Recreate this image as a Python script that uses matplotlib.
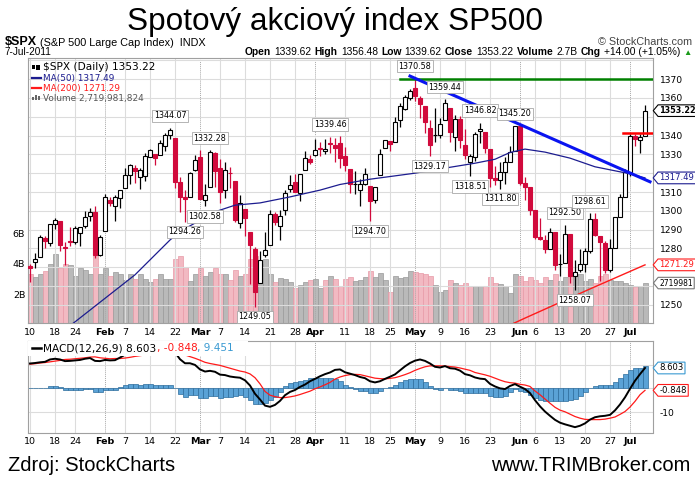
import matplotlib
matplotlib.use('Agg')
import matplotlib.pyplot as plt
import matplotlib.transforms as mtransforms
from matplotlib.path import Path
from matplotlib.patches import Rectangle

# ---- data ($SPX daily, Jan 10 - Jul 7 2011)
dates = ['Jan 10', 'Jan 11', 'Jan 12', 'Jan 13', 'Jan 14', 'Jan 18', 'Jan 19', 'Jan 20', 'Jan 21',
         'Jan 24', 'Jan 25', 'Jan 26', 'Jan 27', 'Jan 28', 'Jan 31',
         'Feb 1', 'Feb 2', 'Feb 3', 'Feb 4', 'Feb 7', 'Feb 8', 'Feb 9', 'Feb 10', 'Feb 11',
         'Feb 14', 'Feb 15', 'Feb 16', 'Feb 17', 'Feb 18', 'Feb 22', 'Feb 23', 'Feb 24', 'Feb 25', 'Feb 28',
         'Mar 1', 'Mar 2', 'Mar 3', 'Mar 4', 'Mar 7', 'Mar 8', 'Mar 9', 'Mar 10', 'Mar 11',
         'Mar 14', 'Mar 15', 'Mar 16', 'Mar 17', 'Mar 18', 'Mar 21', 'Mar 22', 'Mar 23', 'Mar 24', 'Mar 25',
         'Mar 28', 'Mar 29', 'Mar 30', 'Mar 31',
         'Apr 1', 'Apr 4', 'Apr 5', 'Apr 6', 'Apr 7', 'Apr 8', 'Apr 11', 'Apr 12', 'Apr 13', 'Apr 14', 'Apr 15',
         'Apr 18', 'Apr 19', 'Apr 20', 'Apr 21', 'Apr 25', 'Apr 26', 'Apr 27', 'Apr 28', 'Apr 29',
         'May 2', 'May 3', 'May 4', 'May 5', 'May 6', 'May 9', 'May 10', 'May 11', 'May 12', 'May 13',
         'May 16', 'May 17', 'May 18', 'May 19', 'May 20', 'May 23', 'May 24', 'May 25', 'May 26', 'May 27', 'May 31',
         'Jun 1', 'Jun 2', 'Jun 3', 'Jun 6', 'Jun 7', 'Jun 8', 'Jun 9', 'Jun 10', 'Jun 13', 'Jun 14', 'Jun 15',
         'Jun 16', 'Jun 17', 'Jun 20', 'Jun 21', 'Jun 22', 'Jun 23', 'Jun 24', 'Jun 27', 'Jun 28', 'Jun 29', 'Jun 30',
         'Jul 1', 'Jul 5', 'Jul 6', 'Jul 7']

opens = [1270.8, 1272.6, 1275.7, 1285.8, 1282.9, 1293.2, 1294.5, 1280.9, 1283.6,
         1283.3, 1288.2, 1292.0, 1297.5, 1299.6, 1276.5,
         1289.1, 1305.9, 1302.8, 1307.0, 1311.9, 1318.8, 1322.5, 1318.1, 1318.7,
         1328.7, 1330.4, 1329.5, 1334.4, 1340.4, 1338.9, 1315.4, 1307.1, 1307.3, 1321.6,
         1328.6, 1305.9, 1312.4, 1330.7, 1322.7, 1311.1, 1320.2, 1315.7, 1293.4,
         1301.2, 1288.5, 1279.5, 1261.6, 1276.7, 1281.7, 1298.3, 1292.2, 1300.6, 1311.8,
         1315.5, 1309.4, 1321.9, 1327.4,
         1329.5, 1333.0, 1332.0, 1335.9, 1334.8, 1336.2, 1329.0, 1322.0, 1314.0, 1311.1, 1314.5,
         1313.4, 1306.0, 1319.1, 1333.2, 1337.1, 1336.8, 1348.4, 1353.9, 1360.1,
         1365.2, 1359.8, 1355.9, 1344.2, 1340.2, 1340.2, 1348.3, 1354.5, 1339.4, 1348.7,
         1334.8, 1326.1, 1328.5, 1342.4, 1342.0, 1333.1, 1317.7, 1316.4, 1320.6, 1325.7, 1331.7,
         1345.2, 1314.6, 1312.9, 1300.3, 1286.3, 1284.6, 1279.6, 1288.5, 1271.6, 1272.2, 1287.9,
         1265.5, 1268.6, 1271.5, 1278.4, 1295.5, 1286.6, 1283.0, 1268.4, 1280.2, 1296.8, 1307.6,
         1320.6, 1339.6, 1337.6, 1339.62]

highs = [1271.5, 1277.6, 1286.9, 1286.7, 1293.2, 1296.1, 1294.6, 1283.4, 1291.2,
         1291.9, 1291.3, 1299.7, 1301.3, 1302.7, 1287.2,
         1308.9, 1307.6, 1308.6, 1311.0, 1322.9, 1324.9, 1324.5, 1322.8, 1330.8,
         1332.9, 1330.4, 1337.6, 1341.5, 1344.07, 1338.9, 1317.9, 1310.9, 1320.6, 1329.4,
         1332.1, 1314.2, 1332.28, 1331.1, 1327.7, 1325.7, 1323.2, 1315.7, 1308.4,
         1301.2, 1288.5, 1280.9, 1278.9, 1288.9, 1300.6, 1299.4, 1300.5, 1311.3, 1319.2,
         1319.7, 1319.5, 1331.7, 1329.8,
         1337.9, 1336.7, 1338.2, 1339.46, 1338.8, 1339.5, 1333.8, 1322.0, 1321.4, 1316.8, 1322.9,
         1313.4, 1312.7, 1332.7, 1337.5, 1337.1, 1349.6, 1357.5, 1361.7, 1364.6,
         1370.58, 1360.8, 1355.9, 1348.0, 1354.4, 1349.4, 1359.44, 1354.5, 1351.0, 1350.5,
         1343.3, 1330.4, 1341.8, 1346.82, 1342.0, 1333.1, 1323.7, 1325.9, 1328.5, 1334.6, 1345.2,
         1345.2, 1318.0, 1312.9, 1300.3, 1296.2, 1287.0, 1291.0, 1288.5, 1277.0, 1292.5, 1287.9,
         1274.1, 1279.8, 1280.4, 1298.61, 1298.6, 1286.6, 1283.9, 1284.9, 1296.8, 1309.2, 1322.0,
         1341.0, 1340.9, 1340.9, 1356.48]

lows = [1262.2, 1269.6, 1275.7, 1280.5, 1281.1, 1290.2, 1278.9, 1271.3, 1281.1,
        1282.5, 1281.1, 1291.0, 1294.4, 1275.1, 1276.0,
        1289.1, 1302.6, 1294.8, 1301.7, 1311.9, 1314.3, 1314.9, 1311.7, 1316.1,
        1328.7, 1324.6, 1329.5, 1331.9, 1338.1, 1312.3, 1299.6, 1294.26, 1307.3, 1320.9,
        1306.3, 1302.58, 1312.4, 1312.6, 1304.0, 1306.9, 1312.3, 1294.2, 1291.0,
        1286.4, 1261.1, 1249.05, 1261.6, 1275.5, 1281.7, 1292.7, 1284.4, 1297.7, 1310.2,
        1310.2, 1305.3, 1321.9, 1325.0,
        1328.9, 1329.1, 1330.0, 1330.7, 1326.1, 1322.9, 1321.1, 1309.5, 1309.2, 1302.4, 1313.7,
        1294.7, 1304.0, 1319.1, 1333.2, 1331.7, 1336.8, 1344.3, 1353.6, 1358.7,
        1358.6, 1349.5, 1341.5, 1329.17, 1336.4, 1338.6, 1348.3, 1336.4, 1332.0, 1333.4,
        1327.3, 1318.51, 1326.6, 1336.1, 1330.7, 1312.9, 1313.9, 1311.8, 1314.3, 1325.7, 1331.7,
        1313.7, 1305.6, 1297.9, 1284.9, 1284.7, 1277.4, 1279.6, 1268.3, 1265.6, 1272.2, 1261.9,
        1258.07, 1267.4, 1267.6, 1277.6, 1286.8, 1262.9, 1267.2, 1267.5, 1280.2, 1296.8, 1307.6,
        1318.3, 1334.3, 1330.9, 1339.62]

closes = [1269.8, 1274.5, 1286.0, 1283.8, 1293.2, 1295.0, 1281.9, 1280.3, 1283.4,
          1290.8, 1291.2, 1296.6, 1299.5, 1276.3, 1286.1,
          1307.6, 1304.0, 1307.1, 1310.9, 1319.1, 1324.6, 1320.9, 1321.9, 1329.2,
          1332.3, 1328.0, 1336.3, 1340.4, 1343.0, 1315.4, 1307.4, 1306.1, 1319.9, 1327.2,
          1306.3, 1308.4, 1331.0, 1321.2, 1310.1, 1321.8, 1320.0, 1295.1, 1304.3,
          1296.4, 1281.9, 1256.9, 1273.7, 1279.2, 1298.4, 1293.8, 1297.5, 1309.7, 1313.8,
          1310.2, 1319.4, 1328.3, 1325.8,
          1332.4, 1332.9, 1332.6, 1335.5, 1333.5, 1328.2, 1324.5, 1314.2, 1314.4, 1314.5, 1319.7,
          1305.1, 1312.6, 1330.4, 1337.4, 1335.3, 1347.2, 1355.7, 1360.5, 1363.6,
          1361.2, 1356.6, 1347.3, 1335.1, 1340.3, 1346.3, 1357.2, 1342.1, 1348.65, 1337.8,
          1329.5, 1329.0, 1340.7, 1343.6, 1333.3, 1317.4, 1316.3, 1320.5, 1325.7, 1331.1, 1345.2,
          1314.55, 1312.9, 1300.2, 1286.2, 1284.9, 1279.6, 1289.0, 1271.0, 1271.8, 1287.9, 1265.4,
          1267.6, 1271.5, 1278.4, 1295.5, 1287.1, 1283.5, 1268.45, 1280.1, 1296.7, 1307.4, 1320.6,
          1339.7, 1337.9, 1339.2, 1353.22]

volumes = [3.3, 3.1, 3.3, 3.5, 4.0, 4.6, 3.7, 4.0, 3.9, 3.2, 3.7, 3.6, 3.3, 4.6, 3.3,
           3.7, 3.2, 3.45, 3.3, 2.95, 3.3, 3.0, 3.3, 3.0, 2.8, 3.0, 3.3, 3.0, 3.0, 4.3, 4.5, 3.8, 2.85, 3.3,
           3.7, 3.2, 3.45, 3.7, 3.3, 3.3, 2.9, 3.6, 3.2, 3.3, 4.3, 4.5, 3.95, 4.3, 3.3, 2.8, 3.05, 3.0, 2.8,
           2.4, 2.6, 2.8, 2.9,
           3.0, 2.4, 2.9, 3.2, 3.0, 2.55, 3.0, 3.1, 2.85, 2.9, 3.1, 3.5, 3.1, 3.35, 2.9, 2.15, 3.2, 3.05, 3.1, 3.5,
           3.45, 3.35, 3.3, 3.2, 2.6, 2.15, 2.25, 2.9, 2.7, 2.6, 2.7, 2.5, 2.5, 2.5, 2.5, 3.1, 2.7, 2.65, 2.5, 2.1, 3.3,
           3.2, 2.85, 3.1, 2.9, 2.7, 3.1, 2.9, 3.3, 2.85, 3.1, 3.3, 3.3, 3.3, 2.85, 3.0, 2.7, 3.2, 3.3, 2.9, 2.85,
           2.85, 2.7, 2.6, 2.45, 2.5, 2.72]

ma50_dates = ['Jan 20', 'Jan 24', 'Feb 9', 'Feb 18', 'Feb 23', 'Mar 4', 'Mar 10', 'Mar 17', 'Mar 25',
              'Apr 4', 'Apr 8', 'Apr 18', 'May 2', 'May 10', 'May 18', 'May 24', 'May 27', 'Jun 2',
              'Jun 8', 'Jun 15', 'Jun 22', 'Jun 30', 'Jul 5', 'Jul 7']
ma50_vals = [1237.0, 1241.0, 1266.0, 1284.5, 1289.0, 1299.5, 1303.0, 1304.2, 1307.4,
             1311.0, 1314.0, 1316.8, 1320.0, 1322.7, 1325.3, 1327.4, 1331.0, 1332.8,
             1331.2, 1328.0, 1323.4, 1320.2, 1318.9, 1317.49]

ma200_dates = ['May 19', 'Jun 2', 'Jun 21', 'Jul 7']
ma200_vals = [1232.0, 1243.0, 1258.5, 1271.29]

macd = [10.5, 10.7, 11.0, 11.2, 12.2, 12.5, 12.2, 11.5, 11.6, 11.8, 12.0, 12.5, 12.8, 11.6, 11.5,
        12.0, 11.8, 11.9, 13.0, 14.2, 14.9, 15.3, 15.2, 15.9, 16.3, 16.2, 16.3, 16.5, 16.6, 15.2,
        12.3, 10.6, 10.6, 9.9, 8.0, 7.1, 7.4, 7.0, 5.8, 5.6, 5.0, 4.7, 4.5, 3.4, 1.2,
        -2.3, -4.7, -7.3, -7.8, -7.0, -5.3, -2.9, -1.5, -0.7, 0.6, 1.6, 3.0, 4.0, 5.1, 6.0,
        6.7, 7.8, 8.0, 6.8, 6.2, 5.6, 4.8, 4.3, 3.0, 2.5, 3.0, 4.0, 4.9, 5.9, 7.6,
        9.3, 10.7, 11.7, 12.2, 11.6, 10.5, 9.1, 8.8, 9.4, 8.5, 8.3, 7.5, 6.0, 5.5, 4.6,
        4.1, 3.9, 1.9, 0.8, 0.0, -0.3, 1.0, 1.8, 0.7, -0.3, -2.0, -5.0, -7.6, -9.8, -11.6,
        -13.3, -14.5, -15.2, -15.8, -16.4, -15.8, -14.8, -13.2, -12.2, -11.8, -11.6, -11.2, -9.3, -6.8, -3.8,
        -0.2, 3.2, 6.0, 8.603]

signal = [10.2, 10.4, 10.7, 10.9, 11.2, 11.5, 11.8, 12.2, 12.3, 12.5, 12.7, 12.9, 13.2, 13.3, 12.9,
          12.7, 12.5, 12.6, 12.6, 12.8, 13.1, 13.5, 13.8, 14.1, 14.5, 14.7, 15.0, 15.2, 15.3, 15.2,
          14.8, 14.1, 13.4, 12.7, 11.9, 11.0, 10.5, 10.1, 9.7, 9.1, 8.5, 7.9, 7.3, 6.9, 6.1,
          4.5, 1.9, -1.3, -2.9, -3.5, -3.9, -3.9, -3.6, -3.2, -2.6, -1.9, -1.2, -0.2, 0.6, 1.5,
          2.5, 3.9, 4.8, 5.4, 5.8, 5.9, 5.8, 5.3, 4.8, 4.3, 4.1, 4.0, 4.2, 4.5, 5.1,
          5.8, 6.6, 7.6, 8.4, 9.1, 9.5, 9.5, 9.5, 9.4, 9.2, 9.0, 8.6, 8.1, 7.6, 6.7,
          6.2, 5.7, 5.1, 4.3, 3.5, 2.8, 2.4, 2.2, 1.7, 1.4, 0.8, -1.1, -2.7, -4.5, -6.3,
          -8.0, -9.2, -9.9, -10.9, -11.9, -12.6, -13.1, -13.2, -13.2, -13.2, -13.0, -12.6, -12.1, -11.0, -9.8,
          -7.9, -5.5, -2.7, -0.848]

hist = [0.3, 0.3, 0.3, 0.3, 1.0, 1.0, 0.4, -0.7, -0.7, -0.7, -0.7, -0.4, -0.4, -1.7, -1.4,
        -0.7, -0.7, -0.7, 0.4, 1.4, 1.8, 1.8, 1.4, 1.8, 1.8, 1.5, 1.3, 1.3, 1.3, 0.0,
        -2.5, -3.5, -2.8, -2.8, -3.9, -3.9, -3.1, -3.1, -3.9, -3.5, -3.5, -3.2, -2.8, -3.5, -4.9,
        -6.8, -6.6, -6.0, -4.9, -3.5, -1.4, 1.0, 2.1, 2.5, 3.2, 3.5, 4.2, 4.2, 4.5, 4.5,
        4.2, 3.9, 3.2, 1.4, 0.4, -0.3, -1.0, -1.0, -1.8, -1.8, -1.1, 0.0, 0.7, 1.4, 2.5,
        3.5, 4.1, 4.1, 3.8, 2.5, 1.0, -0.4, -0.7, 0.0, -0.7, -0.7, -1.1, -2.1, -2.1, -2.1,
        -2.1, -1.8, -3.2, -3.5, -3.5, -3.1, -1.4, -0.4, -1.0, -1.7, -2.8, -3.9, -4.9, -5.3, -5.3,
        -5.3, -5.3, -5.3, -4.9, -4.5, -3.2, -1.7, 0.0, 1.0, 1.4, 1.4, 1.4, 2.8, 4.2, 6.0,
        7.7, 8.7, 8.7, 9.451]

tick_dates = ['Jan 10', 'Jan 18', 'Jan 24', 'Feb 1', 'Feb 7', 'Feb 14', 'Feb 22', 'Mar 1', 'Mar 7',
              'Mar 14', 'Mar 21', 'Mar 28', 'Apr 1', 'Apr 11', 'Apr 18', 'Apr 25', 'May 2', 'May 9',
              'May 16', 'May 23', 'Jun 1', 'Jun 6', 'Jun 13', 'Jun 20', 'Jun 27', 'Jul 1']
tick_labels = ['10', '18', '24', 'Feb', '7', '14', '22', 'Mar', '7', '14', '21', '28', 'Apr', '11',
               '18', '25', 'May', '9', '16', '23', 'Jun', '6', '13', '20', '27', 'Jul']

peak_dates = ['Feb 18', 'Feb 24', 'Mar 2', 'Mar 3', 'Mar 16', 'Apr 6', 'Apr 18', 'May 2', 'May 5',
              'May 10', 'May 17', 'May 19', 'May 25', 'May 31', 'Jun 14', 'Jun 16', 'Jun 21']
peak_vals = [1344.07, 1294.26, 1302.58, 1332.28, 1249.05, 1339.46, 1294.70, 1370.58, 1329.17,
             1359.44, 1318.51, 1346.82, 1311.80, 1345.20, 1292.50, 1258.07, 1298.61]
peak_side = ['hi', 'lo', 'lo', 'hi', 'lo', 'hi', 'lo', 'hi', 'lo', 'hi', 'lo', 'hi', 'lo', 'hi', 'hi', 'lo', 'hi']

plt.rcParams['font.family'] = ['DejaVu Sans']

RED = '#d10a3c'
GRID = '#dcdcdc'
SPINE = '#a0a0a0'
W, H = 695.0, 480.0

pos = {d: i for i, d in enumerate(dates)}
x = list(range(len(dates)))
XMIN, XMAX = -0.4, 124.6
ticks = [pos[d] for d in tick_dates]


def frame(left, top, right, bottom):
    return [left / W, 1 - bottom / H, (right - left) / W, (bottom - top) / H]


def tag_shape(x0, y0, width, height, mutation_size):
    pad = 0.16 * mutation_size
    x0, y0 = x0 - pad, y0 - pad
    x1, y1 = x0 + width + 2 * pad, y0 + height + 2 * pad
    tip = (y1 - y0) / 2.4
    return Path([(x0, y0), (x1, y0), (x1, y1), (x0, y1), (x0 - tip, (y0 + y1) / 2), (x0, y0)], closed=True)


def tag(axis, value, text, edge, color='black', bold=False, trans=None, size=6.1):
    trans = trans or mtransforms.blended_transform_factory(axis.transAxes, axis.transData)
    axis.annotate(text, xy=(1.0, value), xycoords=trans, xytext=(4.6, 0), textcoords='offset points',
                  ha='left', va='center', fontsize=5.9 if bold else size, color=color,
                  fontweight='bold' if bold else 'normal', annotation_clip=False, zorder=10,
                  bbox=dict(boxstyle=tag_shape, fc='white', ec=edge, lw=0.8))


def style_time_axis(axis):
    axis.set_xlim(XMIN, XMAX)
    axis.set_xticks(ticks)
    axis.set_xticklabels(tick_labels, fontsize=6.8)
    for lab in axis.get_xticklabels():
        if lab.get_text().isalpha():
            lab.set_fontweight('bold')
    axis.tick_params(axis='x', length=0, pad=3.5)
    for t, lab in zip(ticks, tick_labels):
        if lab.isalpha():
            axis.axvline(t, color='#a8a8a8', lw=0.7, ls=(0, (1, 1)), zorder=0)
        else:
            axis.axvline(t, color=GRID, lw=0.8, zorder=0)
    for s in axis.spines.values():
        s.set_color(SPINE)
        s.set_linewidth(0.8)


fig = plt.figure(figsize=(6.95, 4.8), dpi=100)

# ---- volume (behind) and price panel
ax_vol = fig.add_axes(frame(28, 58, 653, 323))
ax = fig.add_axes(frame(28, 58, 653, 323))
ax.patch.set_alpha(0)

prev = [opens[0]] + closes[:-1]
vol_down = [c < p for c, p in zip(closes, prev)]
ax_vol.bar(x, volumes, width=1.0,
           color=['#f2b9c2' if d else '#b9b9b9' for d in vol_down],
           edgecolor=['#e79aa7' if d else '#9a9a9a' for d in vol_down], linewidth=0.5)
ax_vol.set_xlim(XMIN, XMAX)
ax_vol.set_ylim(0.1, 17.48)
ax_vol.set_xticks([])
ax_vol.set_yticks([2, 4, 6])
ax_vol.set_yticklabels(['2B', '4B', '6B'], fontsize=6.8)
ax_vol.tick_params(axis='y', length=0, pad=2)
for s in ax_vol.spines.values():
    s.set_visible(False)

style_time_axis(ax)
ax.set_ylim(1240.4, 1381.2)
ax.yaxis.tick_right()
price_ticks = [1250, 1280, 1290, 1300, 1310, 1330, 1340, 1360, 1370]
ax.set_yticks(price_ticks)
ax.tick_params(axis='y', length=0, pad=5, labelsize=6.6)
for lvl in range(1250, 1381, 10):
    ax.axhline(lvl, color=GRID, lw=0.8, zorder=0)

down = [c < o for o, c in zip(opens, closes)]
ax.vlines(x, lows, highs, colors=[RED if d else 'black' for d in down], lw=0.9, zorder=3)
ax.bar(x, [max(abs(c - o), 0.35) for o, c in zip(opens, closes)],
       bottom=[min(o, c) for o, c in zip(opens, closes)], width=0.62,
       color=[RED if d else 'white' for d in down],
       edgecolor=[RED if d else 'black' for d in down], linewidth=0.8, zorder=4)

ax.plot([pos[d] for d in ma50_dates], ma50_vals, color='#1c1c8f', lw=0.9, zorder=5)
ax.plot([pos[d] for d in ma200_dates], ma200_vals, color='#ff1a1a', lw=1.0, zorder=5)

# drawn trend lines
ax.plot([pos['Apr 27'], XMAX], [1370, 1370], color='#008000', lw=1.8, zorder=6)
x0, x1 = pos['Apr 29'], pos['Jul 7']
y0, y1 = 1371.6, 1316.6
ax.plot([x0, x1 + 1], [y0, y1 + (y1 - y0) / (x1 - x0)], color='#0a14f0', lw=2.2, zorder=6)
ax.plot([pos['Jun 30'] - 0.4, XMAX], [1341.5, 1341.5], color='#ff0000', lw=1.8, zorder=6)

for d, v, side in zip(peak_dates, peak_vals, peak_side):
    off = 8.6 if side == 'hi' else -7.4
    ax.annotate(f'{v:.2f}', xy=(pos[d], v), xytext=(0, off), textcoords='offset points',
                ha='center', va='center', fontsize=5.8, zorder=8,
                bbox=dict(boxstyle='square,pad=0.22', fc='white', ec='#a8a8a8', lw=0.6))

# legend of the price panel
ax.add_patch(Rectangle((0.0065, 0.958), 0.005, 0.017, transform=ax.transAxes, fc='black', zorder=9))
ax.add_patch(Rectangle((0.0135, 0.955), 0.005, 0.020, transform=ax.transAxes, fc='black', zorder=9))
ax.text(0.0245, 0.966, '$SPX (Daily) 1353.22', transform=ax.transAxes, fontsize=7.6, va='center', zorder=9)
ax.plot([0.006, 0.021], [0.923, 0.923], transform=ax.transAxes, color='#1c1c8f', lw=1.6, zorder=9)
ax.text(0.0245, 0.923, 'MA(50) 1317.49', transform=ax.transAxes, fontsize=6.4, va='center',
        color='#1c1c8f', zorder=9)
ax.plot([0.006, 0.021], [0.886, 0.886], transform=ax.transAxes, color='#ff1a1a', lw=1.6, zorder=9)
ax.text(0.0245, 0.886, 'MA(200) 1271.29', transform=ax.transAxes, fontsize=6.4, va='center',
        color='#ff1a1a', zorder=9)
for k, hgt in enumerate([0.012, 0.020, 0.016]):
    ax.add_patch(Rectangle((0.0065 + k * 0.0048, 0.840), 0.0036, hgt, transform=ax.transAxes,
                           fc='#666666', zorder=9))
ax.text(0.0245, 0.848, 'Volume 2,719,981,824', transform=ax.transAxes, fontsize=6.4, va='center',
        color='#555555', zorder=9)

tag(ax, 1353.22, '1353.22', 'black', bold=True)
tag(ax, 1317.49, '1317.49', '#1c1c8f', color='#1c1c8f')
tag(ax, 1271.29, '1271.29', '#ff1a1a', color='#ff1a1a')
tag(ax, 2.72, '2719981', '#777777', size=5.5,
    trans=mtransforms.blended_transform_factory(ax.transAxes, ax_vol.transData))

# ---- MACD panel
axm = fig.add_axes(frame(28, 341, 653, 432.5))
style_time_axis(axm)
axm.set_ylim(-18.65, 20.0)
axm.yaxis.tick_right()
axm.set_yticks([-10, 0, 10])
axm.set_yticklabels(['-10', '', ''])
axm.tick_params(axis='y', length=0, pad=5, labelsize=6.6)
for lvl in (-10, 0, 10):
    axm.axhline(lvl, color=GRID, lw=0.8, zorder=0)
axm.bar(x, hist, width=1.0, color='#5aa2d6', edgecolor='#2c6c9c', linewidth=0.5, zorder=2)
axm.plot(x, signal, color='#ff1a1a', lw=0.9, zorder=3)
axm.plot(x, macd, color='black', lw=1.4, zorder=4)
axm.add_patch(Rectangle((0, 0.836), 0.352, 0.17, transform=axm.transAxes, fc='white', ec='none', zorder=6))
axm.plot([0.006, 0.021], [0.923, 0.923], transform=axm.transAxes, color='black', lw=1.8, zorder=7)
t1 = axm.text(0.0245, 0.923, 'MACD(12,26,9) 8.603', transform=axm.transAxes, fontsize=7.6,
              va='center', zorder=7)
t2 = axm.annotate(', -0.848', xy=(1, 0), xycoords=t1, va='bottom', fontsize=7.6, color='#ff1a1a', zorder=7)
axm.annotate(', 9.451', xy=(1, 0), xycoords=t2, va='bottom', fontsize=7.6, color='#3a9ad2', zorder=7)
tag(axm, 8.603, '8.603', '#3a9ad2')
tag(axm, -0.848, '-0.848', '#ff1a1a')

# ---- header and footer
fig.text(335 / W, 1 - 30 / H, 'Spotový akciový index SP500', ha='center', va='baseline',
         fontsize=22.7, family=['Liberation Sans', 'DejaVu Sans'])
hdr = ['Liberation Sans', 'DejaVu Sans']
s1 = fig.text(5 / W, 1 - 45 / H, '$SPX', fontsize=9.0, fontweight='bold', family=hdr, va='baseline')
axh = fig.add_axes([0, 0, 1, 1], zorder=-5)
axh.axis('off')
axh.annotate(' (S&P 500 Large Cap Index)  INDX', xy=(1, 0), xycoords=s1, va='bottom',
             fontsize=7.8, family=hdr)
fig.text(692 / W, 1 - 45 / H, '© StockCharts.com', ha='right', va='baseline', fontsize=7.8,
         family=hdr, color='#444444')
fig.text(5 / W, 1 - 55 / H, '7-Jul-2011', va='baseline', fontsize=7.2, family=hdr)

segments = [('Open', True), ('1339.62', False), ('High', True), ('1356.48', False),
            ('Low', True), ('1339.62', False), ('Close', True), ('1353.22', False),
            ('Volume', True), ('2.7B', False), ('Chg', True), ('+14.00 (+1.05%)', False)]
last = fig.text(692 / W, 1 - 55 / H, '▲', ha='right', va='baseline', fontsize=6, color='#1a9a1a',
                family=hdr)
for txt, bold in reversed(segments):
    last = axh.annotate(txt, xy=(0, 0), xycoords=last, xytext=(-2.3, 0), textcoords='offset points',
                        ha='right', va='bottom', fontsize=7.4, family=hdr,
                        fontweight='bold' if bold else 'normal')

fig.text(8 / W, 1 - 471 / H, 'Zdroj: StockCharts', va='baseline', fontsize=14.5,
         family=['Liberation Sans', 'DejaVu Sans'])
fig.text(690 / W, 1 - 471 / H, 'www.TRIMBroker.com', ha='right', va='baseline', fontsize=14.5,
         family=['Liberation Sans', 'DejaVu Sans'])

fig.savefig('out.png', dpi=100, facecolor='white')
